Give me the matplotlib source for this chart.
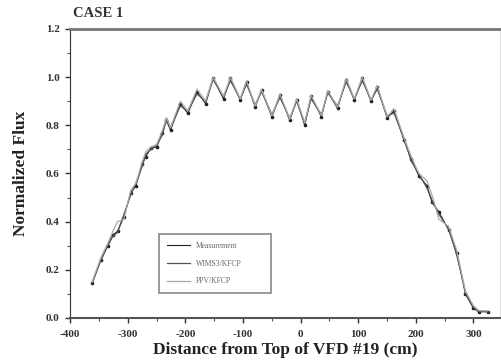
import matplotlib

matplotlib.use("Agg")
import matplotlib.pyplot as plt
from matplotlib.ticker import MultipleLocator

# distance from top of VFD #19 (cm) and normalized flux
dist = [-362, -347, -335, -326, -318, -307, -295, -286, -275, -269, -260,
        -250, -240, -233, -226, -209, -196, -180, -165, -152, -134, -122,
        -105, -94, -79, -68, -50, -36, -19, -7, 7, 18, 36, 47, 64, 79, 93,
        107, 122, 133, 150, 162, 179, 192, 205, 219, 228, 240, 257, 271,
        286, 300, 309, 326]
measured = [0.145, 0.24, 0.30, 0.345, 0.36, 0.42, 0.52, 0.55, 0.64, 0.67,
            0.705, 0.71, 0.77, 0.82, 0.78, 0.89, 0.85, 0.94, 0.89, 0.995,
            0.91, 0.995, 0.905, 0.98, 0.876, 0.946, 0.835, 0.925, 0.82,
            0.905, 0.80, 0.92, 0.835, 0.94, 0.87, 0.99, 0.905, 0.995, 0.90,
            0.96, 0.83, 0.86, 0.74, 0.66, 0.59, 0.55, 0.48, 0.44, 0.365,
            0.27, 0.10, 0.04, 0.026, 0.026]
wims = [0.145, 0.24, 0.30, 0.34, 0.355, 0.43, 0.51, 0.56, 0.63, 0.68,
        0.70, 0.72, 0.76, 0.83, 0.79, 0.88, 0.86, 0.93, 0.90, 0.99, 0.92,
        0.985, 0.91, 0.97, 0.885, 0.94, 0.845, 0.915, 0.83, 0.90, 0.81,
        0.91, 0.845, 0.935, 0.88, 0.98, 0.91, 0.985, 0.905, 0.95, 0.84,
        0.85, 0.75, 0.65, 0.60, 0.54, 0.49, 0.43, 0.37, 0.26, 0.11, 0.045,
        0.03, 0.025]
ppv = [0.15, 0.25, 0.31, 0.36, 0.40, 0.41, 0.53, 0.56, 0.65, 0.69, 0.71,
       0.72, 0.78, 0.83, 0.79, 0.90, 0.86, 0.95, 0.90, 1.0, 0.92, 1.0, 0.91,
       0.985, 0.88, 0.95, 0.84, 0.93, 0.825, 0.91, 0.81, 0.925, 0.84, 0.945,
       0.875, 0.995, 0.91, 1.0, 0.905, 0.965, 0.835, 0.87, 0.75, 0.67, 0.60,
       0.57, 0.51, 0.41, 0.38, 0.28, 0.11, 0.05, 0.03, 0.03]

plt.rcParams["font.family"] = ["Liberation Serif", "DejaVu Serif"]
plt.rcParams["font.weight"] = "bold"
plt.rcParams["axes.unicode_minus"] = False  # the original uses plain hyphens

fig = plt.figure(figsize=(5.02, 3.64), dpi=100)
ax = fig.add_axes([0.140, 0.1264, 0.856, 0.794])

ax.plot(dist, measured, color="#222222", linewidth=0.8, marker="o",
        markersize=1.6, label="Measurement")
ax.plot(dist, wims, color="#555555", linewidth=0.9, label="WIMS3/KFCP")
ax.plot(dist, ppv, color="#aaaaaa", linewidth=0.9, label="PPV/KFCP")

ax.set_xlim(-400, 346)
ax.set_ylim(0, 1.2)
ax.xaxis.set_major_locator(MultipleLocator(100))
ax.xaxis.set_minor_locator(MultipleLocator(50))
ax.yaxis.set_major_locator(MultipleLocator(0.2))
ax.yaxis.set_minor_locator(MultipleLocator(0.1))
ax.yaxis.set_major_formatter(plt.FuncFormatter(lambda v, p: f"{v:.1f}"))
ax.tick_params(which="major", direction="out", length=3.5, width=1,
               labelsize=8, colors="#333333")
ax.tick_params(axis="x", which="major", pad=5)
ax.tick_params(axis="y", which="major", pad=4)
ax.tick_params(which="minor", direction="out", length=2, width=0.8,
               colors="#555555")

ax.spines["top"].set_linewidth(2)
ax.spines["top"].set_color("#777777")
ax.spines["right"].set_color("#dddddd")
ax.spines["left"].set_color("#333333")
ax.spines["bottom"].set_color("#555555")
ax.spines["bottom"].set_linewidth(1.5)

ax.set_xlabel("Distance from Top of VFD #19 (cm)", fontsize=12.5,
              fontweight="bold", labelpad=2, color="#222222")
ax.set_ylabel("Normalized Flux", fontsize=12.5, fontweight="bold",
              labelpad=12, color="#222222")
fig.text(0.145, 0.962, "CASE 1", fontsize=10.5, fontweight="bold",
         color="#333333", va="center")

leg = ax.legend(handles=[plt.Line2D([], [], color="#222222", lw=0.8),
                         plt.Line2D([], [], color="#555555", lw=0.9),
                         plt.Line2D([], [], color="#aaaaaa", lw=0.9)],
                labels=["Measurement", "WIMS3/KFCP", "PPV/KFCP"],
                loc="lower left", bbox_to_anchor=(0.198, 0.073, 0.278, 0.237),
                mode="expand", fontsize=5.5, handlelength=3.0,
                labelspacing=1.3, borderpad=1.0, fancybox=False,
                framealpha=1)
leg.get_frame().set_edgecolor("#888888")
leg.get_frame().set_linewidth(1.2)
for t in leg.get_texts():
    t.set_color("#666666")
    t.set_fontweight("normal")

fig.savefig("out.png", dpi=100)
